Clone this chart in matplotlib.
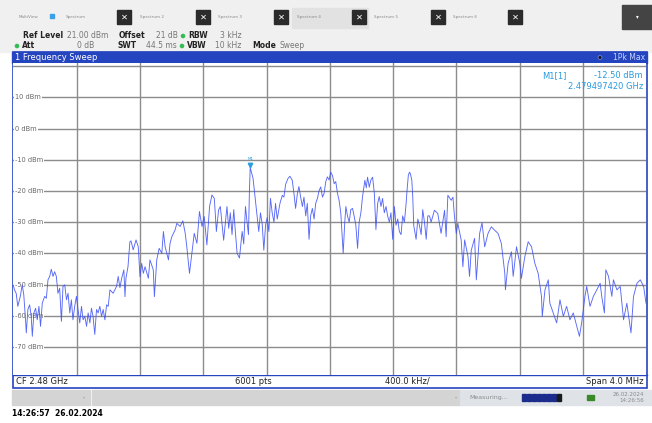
import numpy as np
import matplotlib.pyplot as plt
from matplotlib.patches import Rectangle

# sweep settings
f_start = 2.478          # GHz
f_span = 0.004           # GHz
ref_level = 21.0         # dBm
y_bottom = -79.0

# trace: frequency offset from start (kHz) and level (dBm)
f_khz = [0, 6, 17, 27, 43, 55, 65, 76, 81, 91, 102, 112, 119, 129, 140, 150, 161, 171, 182,
         197, 208, 218, 229, 239, 250, 260, 271, 281, 292, 303, 313, 324, 335, 345, 356, 366,
         376, 387, 398, 408, 419, 430, 440, 451, 462, 472, 483, 493, 503, 514, 525, 535, 546,
         557, 567, 578, 589, 599, 610, 630, 652, 662, 673, 684, 698, 705, 711, 724, 736, 743,
         757, 775, 789, 800, 811, 821, 832, 853, 863, 884, 891, 906, 921, 938, 948, 959, 980,
         990, 1001, 1022, 1033, 1054, 1071, 1086, 1096, 1113, 1128, 1143, 1160, 1176, 1192,
         1206, 1223, 1240, 1255, 1270, 1283, 1297, 1308, 1329, 1350, 1361, 1371, 1382, 1393,
         1403, 1414, 1429, 1446, 1456, 1467, 1477, 1486, 1492, 1497, 1515, 1530, 1541, 1551,
         1562, 1573, 1583, 1594, 1604, 1615, 1625, 1636, 1647, 1657, 1668, 1685, 1700, 1710,
         1721, 1736, 1748, 1763, 1774, 1784, 1795, 1805, 1816, 1827, 1837, 1848, 1858, 1869,
         1879, 1890, 1901, 1911, 1922, 1932, 1943, 1954, 1964, 1975, 1985, 1996, 2006, 2017,
         2028, 2038, 2049, 2059, 2070, 2085, 2095, 2102, 2112, 2123, 2133, 2144, 2154, 2165,
         2176, 2186, 2197, 2207, 2222, 2231, 2239, 2250, 2260, 2271, 2282, 2292, 2303, 2313,
         2324, 2334, 2345, 2356, 2366, 2377, 2387, 2398, 2409, 2419, 2430, 2440, 2451, 2461,
         2472, 2483, 2489, 2497, 2504, 2510, 2519, 2525, 2531, 2546, 2557, 2567, 2578, 2588,
         2599, 2610, 2620, 2631, 2641, 2662, 2683, 2704, 2726, 2736, 2747, 2768, 2779, 2789,
         2800, 2810, 2831, 2842, 2853, 2874, 2884, 2895, 2916, 2927, 2948, 2963, 2980, 3001,
         3022, 3043, 3064, 3085, 3107, 3111, 3128, 3149, 3160, 3181, 3202, 3212, 3234, 3255,
         3276, 3297, 3318, 3339, 3344, 3361, 3382, 3392, 3413, 3435, 3456, 3477, 3498, 3519,
         3540, 3562, 3579, 3593, 3614, 3625, 3646, 3667, 3689, 3710, 3720, 3737, 3746, 3763,
         3784, 3794, 3816, 3837, 3858, 3879, 3905, 3921, 3943, 3964, 3985, 4000]
level_dbm = [-50.5, -51.7, -52.8, -57.0, -53.8, -50.1, -53.3, -61.3, -65.5, -58.0, -56.5, -60.2,
             -66.6, -59.1, -57.6, -61.3, -57.0, -63.4, -56.0, -53.8, -54.4, -48.5, -47.4, -45.1,
             -47.4, -45.9, -47.4, -52.8, -51.2, -61.8, -50.6, -50.1, -54.9, -52.8, -59.1, -54.9,
             -61.3, -57.0, -53.8, -58.0, -62.3, -57.0, -61.3, -60.2, -63.4, -59.1, -62.3, -57.6,
             -60.2, -66.0, -58.0, -59.1, -57.0, -60.2, -58.0, -61.3, -56.5, -57.0, -51.7, -52.8,
             -50.6, -47.4, -51.0, -48.0, -45.3, -53.9, -48.0, -44.3, -36.3, -36.0, -38.9, -35.7,
             -37.9, -47.5, -43.2, -46.4, -44.3, -48.0, -42.1, -45.3, -53.9, -42.1, -38.4, -40.0,
             -33.0, -37.9, -42.1, -36.8, -34.7, -32.5, -30.4, -31.4, -29.6, -33.6, -37.9, -46.4,
             -40.0, -33.6, -36.8, -26.6, -31.4, -28.2, -37.3, -25.0, -21.3, -22.4, -33.0, -26.1,
             -25.0, -35.8, -25.0, -32.0, -27.0, -34.0, -26.0, -33.0, -40.0, -41.5, -33.0, -37.0,
             -25.0, -30.0, -34.0, -20.0, -12.5, -16.0, -23.0, -28.0, -33.0, -27.0, -30.7, -39.0,
             -31.0, -28.6, -33.0, -22.4, -27.0, -30.0, -24.0, -29.0, -24.0, -21.4, -22.0, -17.9,
             -16.0, -15.3, -16.6, -21.0, -25.6, -21.0, -18.6, -22.0, -25.0, -22.0, -28.0, -24.0,
             -35.5, -28.0, -25.6, -29.0, -24.0, -22.4, -20.0, -18.7, -22.0, -20.8, -17.0, -15.5,
             -16.5, -14.0, -15.0, -17.7, -17.0, -20.8, -23.0, -27.2, -40.0, -30.0, -25.0, -28.0,
             -30.0, -26.0, -25.6, -28.0, -31.0, -38.4, -30.0, -27.0, -22.0, -16.6, -19.0, -15.6,
             -18.8, -16.5, -15.6, -20.8, -32.4, -24.0, -21.8, -25.0, -22.4, -27.0, -25.0, -28.0,
             -30.0, -27.0, -35.5, -25.0, -31.0, -29.0, -33.0, -34.0, -28.0, -30.0, -24.0, -19.7,
             -15.0, -14.0, -14.5, -16.6, -22.0, -31.0, -35.5, -29.0, -31.0, -34.0, -26.0, -30.0,
             -35.5, -28.0, -28.0, -30.0, -26.2, -27.2, -33.6, -26.2, -34.7, -21.4, -23.0, -22.0,
             -28.3, -33.6, -30.4, -35.7, -44.3, -35.7, -41.0, -47.4, -39.0, -35.2, -48.5, -33.6,
             -30.2, -37.9, -33.6, -31.5, -32.6, -33.6, -36.8, -46.4, -51.7, -43.2, -39.5, -47.4,
             -37.9, -43.2, -48.0, -41.0, -36.3, -37.9, -43.2, -46.4, -53.8, -60.2, -51.7, -48.5,
             -56.0, -59.1, -62.3, -54.9, -60.2, -57.0, -61.3, -59.1, -63.4, -66.6, -62.3, -53.8,
             -50.6, -57.0, -53.8, -51.7, -49.6, -53.8, -59.1, -45.3, -47.4, -53.8, -48.5, -51.7,
             -50.6, -61.3, -56.0, -65.5, -53.8, -49.6, -48.5, -50.6, -56.0]

marker_khz = 1497.42
marker_dbm = -12.50
y_labels = [10, 0, -10, -20, -30, -40, -50, -60, -70]

W, H = 652, 423
blue = '#2544c0'
fig = plt.figure(figsize=(W / 100, H / 100), dpi=100)

# overlay in pixel coordinates for the instrument chrome
bg = fig.add_axes([0, 0, 1, 1])
bg.set_xlim(0, W)
bg.set_ylim(H, 0)
bg.axis('off')
bg.add_patch(Rectangle((0, 0), W, 52, color='#f0f0f0', zorder=0))

# tab row
bg.text(19, 17, 'MultiView', fontsize=3, color='#8a8a8a', va='center')
bg.add_patch(Rectangle((50, 14), 4, 4, color='#3aa0e8'))
bg.add_patch(Rectangle((292, 8), 76, 20, color='#e2e2e2'))
tabs = ['Spectrum', 'Spectrum 2', 'Spectrum 3', 'Spectrum 4', 'Spectrum 5', 'Spectrum 6']
tab_x = [66, 140, 218, 297, 374, 453]
box_x = [117, 196, 274, 352, 431, 508]
for name, tx, bx in zip(tabs, tab_x, box_x):
    bg.text(tx, 17, name, fontsize=3, color='#8a8a8a', va='center')
    bg.add_patch(Rectangle((bx, 10), 14, 14, color='#2b2b2b'))
    bg.text(bx + 7, 17, '✕', fontsize=6, color='white', ha='center', va='center',
            fontweight='bold')
bg.add_patch(Rectangle((622, 5), 30, 24, color='#444444'))
bg.text(637, 17, '▾', fontsize=4, color='white', ha='center', va='center')

# settings rows
fs = 5.5
rows = [
    (36, [(23, 'Ref Level', True), (67, '21.00 dBm', False), (119, 'Offset', True),
          (156, '21 dB', False), (188, 'RBW', True), (220, '3 kHz', False)]),
    (46, [(22, 'Att', True), (118, 'SWT', True), (146, '44.5 ms', False),
          (187, 'VBW', True), (215, '10 kHz', False), (252, 'Mode', True),
          (279, 'Sweep', False)]),
]
for y, items in rows:
    for x, s, bold in items:
        bg.text(x, y, s, fontsize=fs, va='center', color='#222' if bold else '#777',
                fontweight='bold' if bold else 'normal')
bg.text(94, 46, '0 dB', fontsize=fs, color='#777', va='center', ha='right')
for cx, cy in [(183, 36), (17, 46), (182, 46)]:
    bg.add_patch(plt.Circle((cx, cy), 1.6, color='#33bb55'))

# window frame and title bar
bg.add_patch(Rectangle((12, 52), 635, 11, color=blue, zorder=1))
bg.add_patch(Rectangle((12.5, 52), 634, 336, fill=False, edgecolor=blue, lw=1.2, zorder=6))
bg.text(15, 57.5, '1 Frequency Sweep', fontsize=6, color='white', va='center')
bg.add_patch(plt.Circle((600, 57.5), 2, facecolor='#1a1a2a', edgecolor='#88aaff', lw=0.4,
                        zorder=2))
bg.text(645, 57.5, '1Pk Max', fontsize=5.5, color='#c8d4ff', va='center', ha='right')

# bottom annotation row
bg.plot([12.5, 646.5], [375, 375], color=blue, lw=1, zorder=6)
bg.text(16, 381, 'CF 2.48 GHz', fontsize=6, color='#222', va='center')
bg.text(253, 381, '6001 pts', fontsize=6, color='#222', va='center', ha='center')
bg.text(385, 381, '400.0 kHz/', fontsize=6, color='#222', va='center')
bg.text(644, 381, 'Span 4.0 MHz', fontsize=6, color='#222', va='center', ha='right')

# status bar
bg.add_patch(Rectangle((12, 390), 78, 15, color='#d4d4d4'))
bg.add_patch(Rectangle((92, 390), 368, 15, color='#d4d4d4'))
bg.add_patch(Rectangle((460, 390), 192, 15, color='#dfe3e8'))
bg.text(84, 397.5, '▾', fontsize=3, color='#aaaaaa', ha='center', va='center')
bg.text(456, 397.5, '▾', fontsize=3, color='#aaaaaa', ha='center', va='center')
bg.text(469, 397.5, 'Measuring...', fontsize=4.5, color='#8a8a8a', va='center')
for i in range(8):
    bg.add_patch(Rectangle((522 + i * 5, 394), 3.6, 7,
                           color='#1a1a1a' if i == 7 else '#1c2c8c'))
bg.add_patch(Rectangle((587, 395), 7, 5, color='#3a8a2a'))
bg.text(644, 394, '26.02.2024', fontsize=4, color='#8a8a8a', va='center', ha='right')
bg.text(644, 401, '14:26:56', fontsize=4, color='#8a8a8a', va='center', ha='right')

bg.text(12, 414, '14:26:57  26.02.2024', fontsize=5.5, color='black', va='center',
        fontweight='bold')

# spectrum diagram
x0, x1, y0, y1 = 13.5, 646, 63, 375
ax = fig.add_axes([x0 / W, 1 - y1 / H, (x1 - x0) / W, (y1 - y0) / H])
ax.set_xlim(f_start, f_start + f_span)
ax.set_ylim(y_bottom, ref_level)
ax.set_xticks([])
ax.set_yticks([])
for s in ax.spines.values():
    s.set_visible(False)

for k in range(1, 10):
    ax.axvline(f_start + k * f_span / 10, color='#8c8c8c', lw=1, zorder=1)
ax.axhline(20, color='#8c8c8c', lw=1, zorder=1)
for v in y_labels:
    ax.axhline(v, color='#8c8c8c', lw=1, zorder=1)
    ax.text(f_start + 0.00001, v, f'{v} dBm', fontsize=4.8, color='#666666', va='center',
            ha='left', zorder=2, bbox=dict(facecolor='white', edgecolor='none', pad=0.6))

freq = f_start + np.array(f_khz) / 1e6
ax.plot(freq, level_dbm, color='#3a4ef5', lw=0.65, alpha=0.85, zorder=3)

mf = f_start + marker_khz / 1e6
ax.plot(mf, marker_dbm + 0.8, marker='v', color='#2aa0e0', ms=3.2, zorder=4)
ax.text(mf, marker_dbm + 2.2, 'M1', fontsize=3, color='#2aa0e0', ha='center', va='bottom')

ax.text(0.835, 0.975, 'M1[1]', transform=ax.transAxes, fontsize=6, color='#2a9ae0',
        va='top', ha='left')
ax.text(0.995, 0.975, f'{marker_dbm:.2f} dBm', transform=ax.transAxes, fontsize=6,
        color='#2a9ae0', va='top', ha='right')
ax.text(0.995, 0.94, '2.479497420 GHz', transform=ax.transAxes, fontsize=6,
        color='#2a9ae0', va='top', ha='right')

fig.savefig('out.png', dpi=100)
